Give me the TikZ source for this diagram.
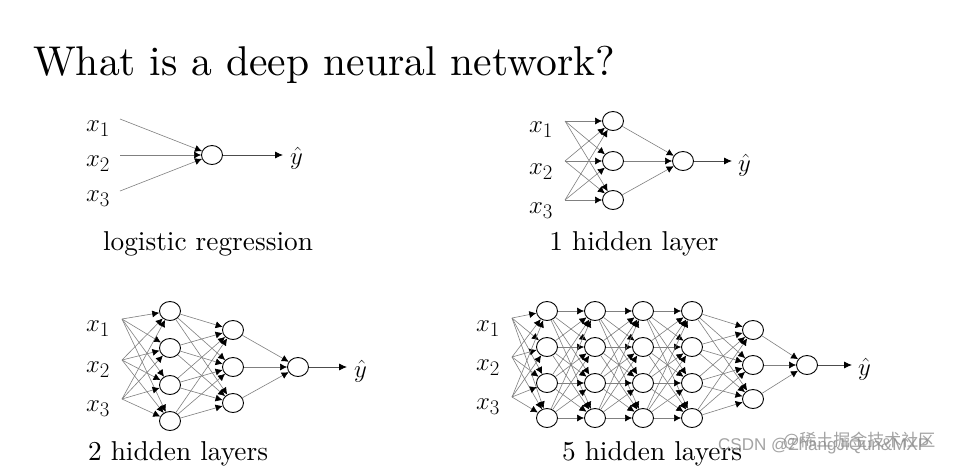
\documentclass[tikz,border=0pt]{standalone}
\usepackage{fontspec}
\newfontfamily\cjkfont{Noto Sans CJK SC}
\newfontfamily\wmfont{Liberation Sans}
\newfontfamily\lmten{lmroman10-regular}[Extension=.otf]
\usetikzlibrary{arrows.meta,shapes.geometric}
\begin{document}
\begin{tikzpicture}[x=1pt,y=-1pt,
  neuron/.style={ellipse,draw=black,line width=0.9pt,fill=white,minimum width=21pt,minimum height=19pt,inner sep=0pt},
  conn/.style={draw=black!50,line width=0.6pt,-{Latex[length=7pt,width=7pt,color=black]}},
  outarrow/.style={draw=black!70,line width=0.8pt,-{Latex[length=8pt,width=7pt,color=black]}},
  xlab/.style={font=\fontsize{31}{31}\selectfont,inner sep=0pt},
  yhat/.style={font=\fontsize{29}{29}\selectfont,inner sep=0pt,anchor=west},
  capt/.style={font=\lmten\fontsize{27.3}{30}\selectfont,inner sep=0pt,anchor=base},
  wm/.style={text=black!45,opacity=0.8,inner sep=0pt,anchor=base west}]
\useasboundingbox (0,0) rectangle (958,467);
\fill[white] (0,0) rectangle (958,467);

% title
\node[font=\lmten\fontsize{41.6}{45}\selectfont,inner sep=0pt,anchor=base west] (title) at (33,75) {What is a deep neural network?};

% ---------- logistic regression ----------
\coordinate (a-in1) at (120,119);
\coordinate (a-in2) at (120,155);
\coordinate (a-in3) at (120,191);
\node[xlab] (a-x1) at (98,129) {$x_1$};
\node[xlab] (a-x2) at (98,164) {$x_2$};
\node[xlab] (a-x3) at (98,199) {$x_3$};
\node[neuron] (a-o) at (212,155) {};
\foreach \i in {1,2,3} \draw[conn] (a-in\i) -- (a-o);
\coordinate (a-end) at (283,155);
\draw[outarrow] (a-o) -- (a-end);
\node[yhat] (a-y) at (290,158) {$\hat{y}$};
\node[capt] (a-cap) at (208,250) {logistic regression};

% ---------- 1 hidden layer ----------
\coordinate (b-in1) at (565,121);
\coordinate (b-in2) at (565,161);
\coordinate (b-in3) at (565,200);
\node[xlab] (b-x1) at (541,130) {$x_1$};
\node[xlab] (b-x2) at (541,172) {$x_2$};
\node[xlab] (b-x3) at (541,211) {$x_3$};
\node[neuron] (b-1-1) at (613,121) {};
\node[neuron] (b-1-2) at (613,161) {};
\node[neuron] (b-1-3) at (613,200) {};
\node[neuron] (b-o) at (683,161) {};
\foreach \i in {1,2,3} \foreach \j in {1,2,3} \draw[conn] (b-in\i) -- (b-1-\j);
\foreach \j in {1,2,3} \draw[conn] (b-1-\j) -- (b-o);
\coordinate (b-end) at (732,161);
\draw[outarrow] (b-o) -- (b-end);
\node[yhat] (b-y) at (738,165) {$\hat{y}$};
\node[capt] (b-cap) at (634,250) {1 hidden layer};

% ---------- 2 hidden layers ----------
\coordinate (c-in1) at (122,319);
\coordinate (c-in2) at (122,360);
\coordinate (c-in3) at (122,399);
\node[xlab] (c-x1) at (98,329) {$x_1$};
\node[xlab] (c-x2) at (98,370) {$x_2$};
\node[xlab] (c-x3) at (98,409) {$x_3$};
\node[neuron] (c-1-1) at (170,311) {};
\node[neuron] (c-1-2) at (170,348) {};
\node[neuron] (c-1-3) at (170,385) {};
\node[neuron] (c-1-4) at (170,421) {};
\node[neuron] (c-2-1) at (233,330) {};
\node[neuron] (c-2-2) at (233,367) {};
\node[neuron] (c-2-3) at (233,403) {};
\node[neuron] (c-o) at (298,367) {};
\foreach \i in {1,2,3} \foreach \j in {1,...,4} \draw[conn] (c-in\i) -- (c-1-\j);
\foreach \i in {1,...,4} \foreach \j in {1,2,3} \draw[conn] (c-1-\i) -- (c-2-\j);
\foreach \j in {1,2,3} \draw[conn] (c-2-\j) -- (c-o);
\coordinate (c-end) at (347,367);
\draw[outarrow] (c-o) -- (c-end);
\node[yhat] (c-y) at (354,371) {$\hat{y}$};
\node[capt] (c-cap) at (178,460) {2 hidden layers};

% ---------- 5 hidden layers ----------
\coordinate (d-in1) at (512,318);
\coordinate (d-in2) at (512,357);
\coordinate (d-in3) at (512,397);
\node[xlab] (d-x1) at (488,329) {$x_1$};
\node[xlab] (d-x2) at (488,368) {$x_2$};
\node[xlab] (d-x3) at (488,407) {$x_3$};
\foreach \l/\xx in {1/547,2/595,3/643,4/692}
  \foreach \j/\yy in {1/311,2/347,3/383,4/418}
    \node[neuron] (d-\l-\j) at (\xx,\yy) {};
\node[neuron] (d-5-1) at (753,330) {};
\node[neuron] (d-5-2) at (753,365) {};
\node[neuron] (d-5-3) at (753,399) {};
\node[neuron] (d-o) at (807,365) {};
\foreach \i in {1,2,3} \foreach \j in {1,...,4} \draw[conn] (d-in\i) -- (d-1-\j);
\foreach \l/\m in {1/2,2/3,3/4}
  \foreach \i in {1,...,4} \foreach \j in {1,...,4} \draw[conn] (d-\l-\i) -- (d-\m-\j);
\foreach \i in {1,...,4} \foreach \j in {1,2,3} \draw[conn] (d-4-\i) -- (d-5-\j);
\foreach \j in {1,2,3} \draw[conn] (d-5-\j) -- (d-o);
\coordinate (d-end) at (852,365);
\draw[outarrow] (d-o) -- (d-end);
\node[yhat] (d-y) at (858,369) {$\hat{y}$};
\node[capt] (d-cap) at (652,460) {5 hidden layers};

% watermark
\node[wm,font=\wmfont\fontsize{17}{17}\selectfont] (wm1) at (718,450) {CSDN @ZhangJiQun\&MXP};
\node[wm,font=\cjkfont\fontsize{17}{17}\selectfont] (wm2) at (783,446) {@稀土掘金技术社区};
\end{tikzpicture}
\end{document}
